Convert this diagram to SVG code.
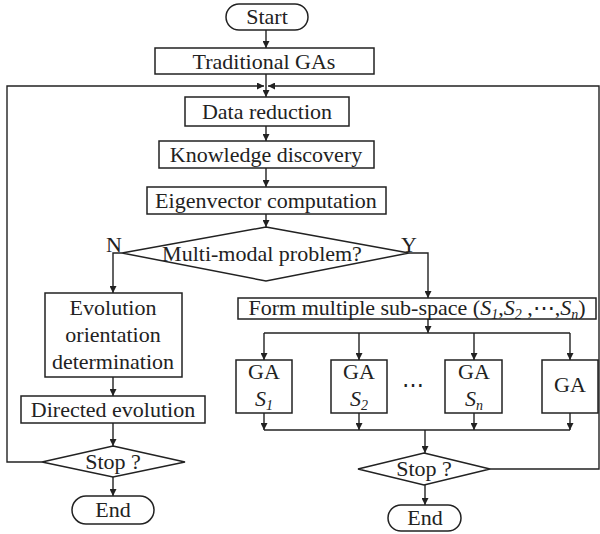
<svg xmlns="http://www.w3.org/2000/svg" width="600" height="534" viewBox="0 0 600 534" font-family="'Liberation Serif', 'Times New Roman', 'DejaVu Serif', serif">
<style>
.b{fill:#fff;stroke:#222;stroke-width:1.5}
.l{fill:none;stroke:#222;stroke-width:1.4}
text{font-family:'Liberation Serif','Times New Roman','DejaVu Serif',serif;font-size:22px;fill:#222;text-anchor:middle}
.i{font-style:italic}
</style>
<defs>
<marker id="a" viewBox="0 0 10 10" refX="10" refY="5" markerWidth="7" markerHeight="7" markerUnits="userSpaceOnUse" orient="auto"><path d="M0,0L10,5L0,10z" fill="#222"/></marker>
</defs>
<g id="connectors">
<path class="l" d="M266,30V48" marker-end="url(#a)"/>
<path class="l" d="M266,74V97" marker-end="url(#a)"/>
<path class="l" d="M42,462H7V86H264" marker-end="url(#a)"/>
<path class="l" d="M490,469H599V86H268" marker-end="url(#a)"/>
<path class="l" d="M266,126V141" marker-end="url(#a)"/>
<path class="l" d="M266,168V187" marker-end="url(#a)"/>
<path class="l" d="M266,214V227" marker-end="url(#a)"/>
<path class="l" d="M122,253H113V293" marker-end="url(#a)"/>
<path class="l" d="M409,253H428V298" marker-end="url(#a)"/>
<path class="l" d="M113,377V396" marker-end="url(#a)"/>
<path class="l" d="M113,423V446" marker-end="url(#a)"/>
<path class="l" d="M113,477V496" marker-end="url(#a)"/>
<path class="l" d="M428,319V333" marker-end="url(#a)"/>
<path class="l" d="M264,333H570"/>
<path class="l" d="M264,333V360" marker-end="url(#a)"/>
<path class="l" d="M359,333V360" marker-end="url(#a)"/>
<path class="l" d="M474,333V360" marker-end="url(#a)"/>
<path class="l" d="M570,333V360" marker-end="url(#a)"/>
<path class="l" d="M264,413V430" marker-end="url(#a)"/>
<path class="l" d="M359,413V430" marker-end="url(#a)"/>
<path class="l" d="M474,413V430" marker-end="url(#a)"/>
<path class="l" d="M570,413V430" marker-end="url(#a)"/>
<path class="l" d="M264,430H570"/>
<path class="l" d="M425,430V453" marker-end="url(#a)"/>
<path class="l" d="M425,485V505" marker-end="url(#a)"/>
</g>
<g id="start"><rect class="b" x="226" y="4" width="82" height="26" rx="13"/><text x="267" y="24">Start</text></g>
<g id="traditional"><rect class="b" x="155" y="48" width="219" height="26"/><text x="264" y="68.5">Traditional GAs</text></g>
<g id="datared"><rect class="b" x="185" y="97" width="164" height="29"/><text x="267" y="119">Data reduction</text></g>
<g id="knowledge"><rect class="b" x="159" y="141" width="215" height="27"/><text x="266" y="162">Knowledge discovery</text></g>
<g id="eigen"><rect class="b" x="147" y="187" width="239" height="27"/><text x="266" y="208">Eigenvector computation</text></g>
<g id="multimodal"><path class="b" d="M266,227L409,253L266,281L122,253Z"/><text x="262" y="261">Multi-modal problem?</text></g>
<g id="labelN"><text x="114" y="252">N</text></g>
<g id="labelY"><text x="409" y="252">Y</text></g>
<g id="evolution"><rect class="b" x="45" y="293" width="137" height="84"/><text x="113" y="315">Evolution</text><text x="113" y="342">orientation</text><text x="113" y="369">determination</text></g>
<g id="directed"><rect class="b" x="21" y="396" width="184" height="27"/><text x="113" y="417">Directed evolution</text></g>
<g id="stop1"><path class="b" d="M113,446L185,462L113,477L42,462Z"/><text x="113" y="469">Stop ?</text></g>
<g id="end1"><rect class="b" x="72" y="496" width="82" height="28" rx="14"/><text x="113" y="517">End</text></g>
<g id="form"><rect class="b" x="238" y="298" width="358" height="21"/><text x="417" y="315">Form multiple sub-space (<tspan class="i">S</tspan><tspan class="i" font-size="14" dy="4">1</tspan><tspan dy="-4">,</tspan><tspan class="i">S</tspan><tspan class="i" font-size="14" dy="4">2</tspan><tspan dy="-4"> ,⋯,</tspan><tspan class="i">S</tspan><tspan class="i" font-size="14" dy="4">n</tspan><tspan dy="-4">)</tspan></text></g>
<g id="ga1"><rect class="b" x="236" y="360" width="56" height="53"/><text x="264" y="379">GA</text><text x="264" y="406"><tspan class="i">S</tspan><tspan class="i" font-size="14" dy="4">1</tspan></text></g>
<g id="ga2"><rect class="b" x="331" y="360" width="56" height="53"/><text x="359" y="379">GA</text><text x="359" y="406"><tspan class="i">S</tspan><tspan class="i" font-size="14" dy="4">2</tspan></text></g>
<g id="dots"><text x="413" y="392" font-size="18">⋯</text></g>
<g id="gan"><rect class="b" x="445" y="360" width="57" height="53"/><text x="474" y="379">GA</text><text x="474" y="406"><tspan class="i">S</tspan><tspan class="i" font-size="14" dy="4">n</tspan></text></g>
<g id="ga"><rect class="b" x="542" y="360" width="56" height="53"/><text x="570" y="392">GA</text></g>
<g id="stop2"><path class="b" d="M424,453L490,469L424,485L358,469Z"/><text x="424" y="476">Stop ?</text></g>
<g id="end2"><rect class="b" x="388" y="505" width="73" height="26" rx="13"/><text x="425" y="525">End</text></g>
</svg>
